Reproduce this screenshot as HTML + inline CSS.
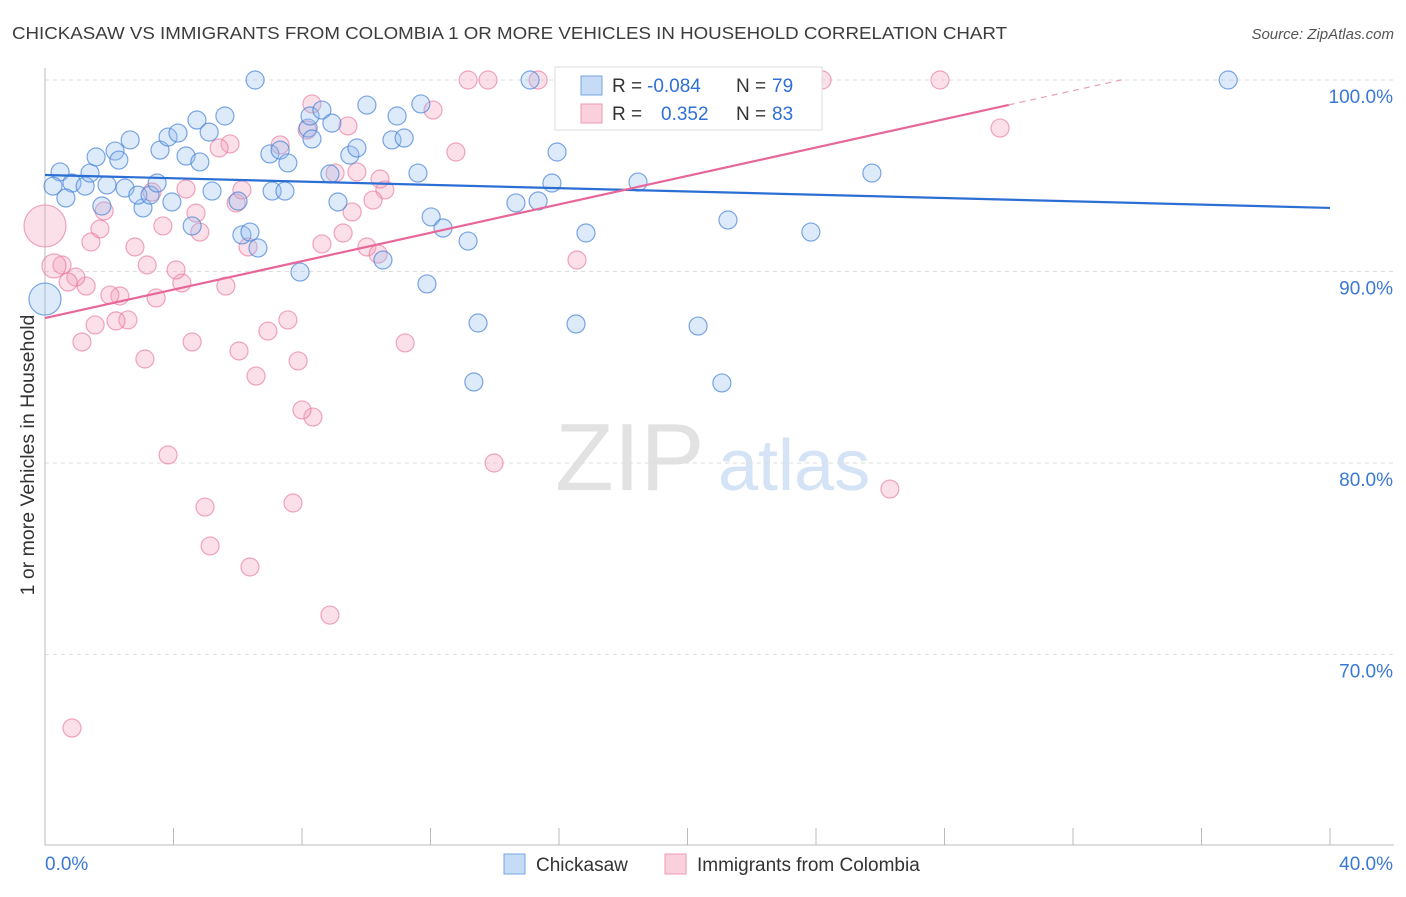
<!DOCTYPE html>
<html><head><meta charset="utf-8">
<style>
body{margin:0;background:#fff;font-family:"Liberation Sans",sans-serif;}
svg text{font-family:"Liberation Sans",sans-serif;}
</style></head>
<body>
<svg id="chart" width="1406" height="892" xmlns="http://www.w3.org/2000/svg">
<text x="12" y="39" font-size="17.5" fill="#3c3c3c" textLength="995" lengthAdjust="spacingAndGlyphs">CHICKASAW VS IMMIGRANTS FROM COLOMBIA 1 OR MORE VEHICLES IN HOUSEHOLD CORRELATION CHART</text>
<text x="1394" y="39" font-size="15" fill="#555" font-style="italic" text-anchor="end">Source: ZipAtlas.com</text>
<g>
<text x="555" y="490" font-size="96" fill="#e2e2e2" font-family="Liberation Serif, serif">ZIP</text>
<text x="718" y="490" font-size="72" fill="#d4e3f5">atlas</text>
</g>
<g id="grid"></g>
<g id="axes"></g>
<g id="pts"></g>
<g id="trends"></g>
<text transform="translate(34,455) rotate(-90)" font-size="19.5" fill="#333" text-anchor="middle">1 or more Vehicles in Household</text>
<g>
<rect x="555" y="67" width="267" height="63" fill="#fff" stroke="#ddd"/>
<rect x="581" y="76" width="21" height="19" fill="#c6dbf6" stroke="#7aa6e3"/>
<rect x="581" y="104" width="21" height="19" fill="#fbd0dd" stroke="#ee9ab4"/>
<text x="612" y="92" font-size="19" fill="#333">R = </text><text x="647" y="92" font-size="19" fill="#2f6fd6">-0.084</text>
<text x="736" y="92" font-size="19" fill="#333">N = </text><text x="772" y="92" font-size="19" fill="#2f6fd6">79</text>
<text x="612" y="120" font-size="19" fill="#333">R = </text><text x="661" y="120" font-size="19" fill="#2f6fd6">0.352</text>
<text x="736" y="120" font-size="19" fill="#333">N = </text><text x="772" y="120" font-size="19" fill="#2f6fd6">83</text>
</g>
<g>
<rect x="504" y="854" width="21" height="20" fill="#c6dbf6" stroke="#7aa6e3"/>
<text x="536" y="871" font-size="19" fill="#333">Chickasaw</text>
<rect x="665" y="854" width="21" height="20" fill="#fbd0dd" stroke="#ee9ab4"/>
<text x="697" y="871" font-size="19" fill="#333">Immigrants from Colombia</text>
</g>
</svg>
<script>
const yTicks=[100,90,80,70];
const yTickLabels=["100.0%","90.0%","80.0%","70.0%"];
const xTickLabels=["0.0%","40.0%"];
const blueX=[6.54,15.10,36.83,20.64,0.47,0.25,0.84,1.25,1.40,0.65,1.59,1.93,1.77,2.18,2.30,2.65,2.49,3.05,2.89,3.27,3.49,3.58,3.83,4.14,3.95,4.39,4.73,4.82,5.11,5.20,5.60,6.01,4.58,6.13,6.38,6.63,7.00,7.32,7.07,7.47,7.56,7.94,8.19,8.25,8.31,8.62,8.93,8.87,9.12,9.49,9.71,10.02,10.52,10.80,10.96,11.18,11.70,11.61,11.89,12.02,12.39,13.17,13.48,13.35,14.66,15.35,15.78,15.94,16.84,16.53,18.46,20.33,21.07,21.26,23.84,25.74,0.0];
const blueY=[100,100,100,100,95.20,94.46,94.62,94.46,95.14,93.84,95.98,94.52,93.42,96.29,95.82,96.87,94.36,93.32,93.99,93.99,94.62,96.34,97.02,97.23,93.63,96.03,97.91,95.72,97.28,94.20,98.12,93.68,92.38,91.91,92.06,91.23,96.14,96.34,94.20,94.20,95.67,89.97,97.49,98.12,96.92,98.43,97.75,95.09,93.63,96.08,96.45,98.69,90.60,96.87,98.12,96.97,98.75,95.14,89.35,92.85,92.27,91.59,87.31,84.23,93.58,93.68,94.62,96.24,92.01,87.26,94.67,87.15,84.18,92.69,92.06,95.14,88.56];
const blueR=blueX.map((v,i)=>i===76?16:9);
const pinkX=[13.17,13.79,15.35,24.19,27.86,29.73,26.30,13.98,16.56,12.79,12.08,11.21,10.58,10.43,10.21,10.02,10.37,9.71,9.56,9.43,9.28,9.03,8.62,8.31,8.16,8.34,8.00,7.88,7.72,8.87,7.56,7.32,6.94,6.57,6.38,6.32,6.04,5.95,6.13,5.76,5.42,5.63,5.14,4.98,4.82,4.70,4.58,4.39,4.26,4.08,3.83,3.67,3.46,3.33,3.11,3.18,2.80,2.58,2.33,2.02,2.21,1.71,1.84,1.56,1.43,1.28,1.15,0.96,0.72,0.53,0.28,0.0,0.84];
const pinkY=[100,100,100,100,100,97.49,78.64,80.00,90.60,96.24,98.43,86.27,94.26,94.83,93.73,91.28,90.91,95.20,93.11,97.60,92.01,95.14,91.44,98.75,97.39,82.40,82.77,85.33,77.91,72.06,87.47,96.61,86.89,84.54,74.57,91.28,85.85,93.58,94.26,96.66,96.45,89.24,75.67,77.70,92.06,93.05,86.32,94.31,89.40,90.08,80.42,92.38,88.62,94.15,85.43,90.34,91.28,87.47,88.72,88.77,87.42,92.22,93.16,87.21,91.54,89.24,86.32,89.71,89.45,90.34,90.29,92.38,66.16];
const pinkR=pinkX.map((v,i)=>i===70?12:(i===71?21:9));
const blueTrend=[95.04,93.32];
const pinkTrend=[87.57,0.371];
const X=v=>45+v*32.125, Y=v=>80+(100-v)*19.15;
const NS="http://www.w3.org/2000/svg";
function mk(tag,attrs,parent){const e=document.createElementNS(NS,tag);for(const k in attrs)e.setAttribute(k,attrs[k]);parent.appendChild(e);return e;}
const grid=document.getElementById('grid'),axes=document.getElementById('axes');
yTicks.forEach((t,i)=>{
 const l=mk('line',{x1:45,x2:1394,y1:Y(t),y2:Y(t),stroke:'#ddd','stroke-dasharray':'4,4'},grid);
 
 
 const tx=mk('text',{x:1393,y:Y(t)+23,'font-size':19,fill:'#3a78d6','text-anchor':'end'},axes);
 tx.textContent=yTickLabels[i];
 
 
});
mk('line',{x1:45,x2:45,y1:68,y2:845,stroke:'#bbb'},axes);
mk('line',{x1:45,x2:1394,y1:845,y2:845,stroke:'#bbb'},axes);
for(let i=0;i<=10;i++){mk('line',{x1:X(i*4),x2:X(i*4),y1:828,y2:845,stroke:'#bbb'},axes);}
const x0=mk('text',{x:45,y:870,'font-size':19,fill:'#3a78d6'},axes);x0.textContent=xTickLabels[0];


const x1=mk('text',{x:1393,y:870,'font-size':19,fill:'#3a78d6','text-anchor':'end'},axes);x1.textContent=xTickLabels[1];


const pts=document.getElementById('pts');
pinkX.forEach((v,i)=>{const c=mk('circle',{cx:X(v),cy:Y(pinkY[i]),r:pinkR[i],fill:'rgba(244,160,186,0.32)',stroke:'rgba(232,120,155,0.65)','stroke-width':1.2},pts);
 
 });
blueX.forEach((v,i)=>{const c=mk('circle',{cx:X(v),cy:Y(blueY[i]),r:blueR[i],fill:'rgba(150,190,240,0.32)',stroke:'rgba(70,130,215,0.7)','stroke-width':1.2},pts);
 
 });
const tr=document.getElementById('trends');
const bl=mk('line',{x1:X(0),y1:Y(blueTrend[0]),x2:X(40),y2:Y(blueTrend[1]),stroke:'#2c6fd4','stroke-width':2.2},tr);


const pl=mk('line',{x1:X(0),y1:Y(pinkTrend[0]),x2:X(30),y2:Y(pinkTrend[0]+30*pinkTrend[1]),stroke:'#e8679a','stroke-width':2.2},tr);


const pd=mk('line',{x1:X(30),y1:Y(pinkTrend[0]+30*pinkTrend[1]),x2:X(33.6),y2:Y(pinkTrend[0]+33.6*pinkTrend[1]),stroke:'#e8a0bc','stroke-width':1.2,'stroke-dasharray':'6,5'},tr);


</script>
</body></html>
